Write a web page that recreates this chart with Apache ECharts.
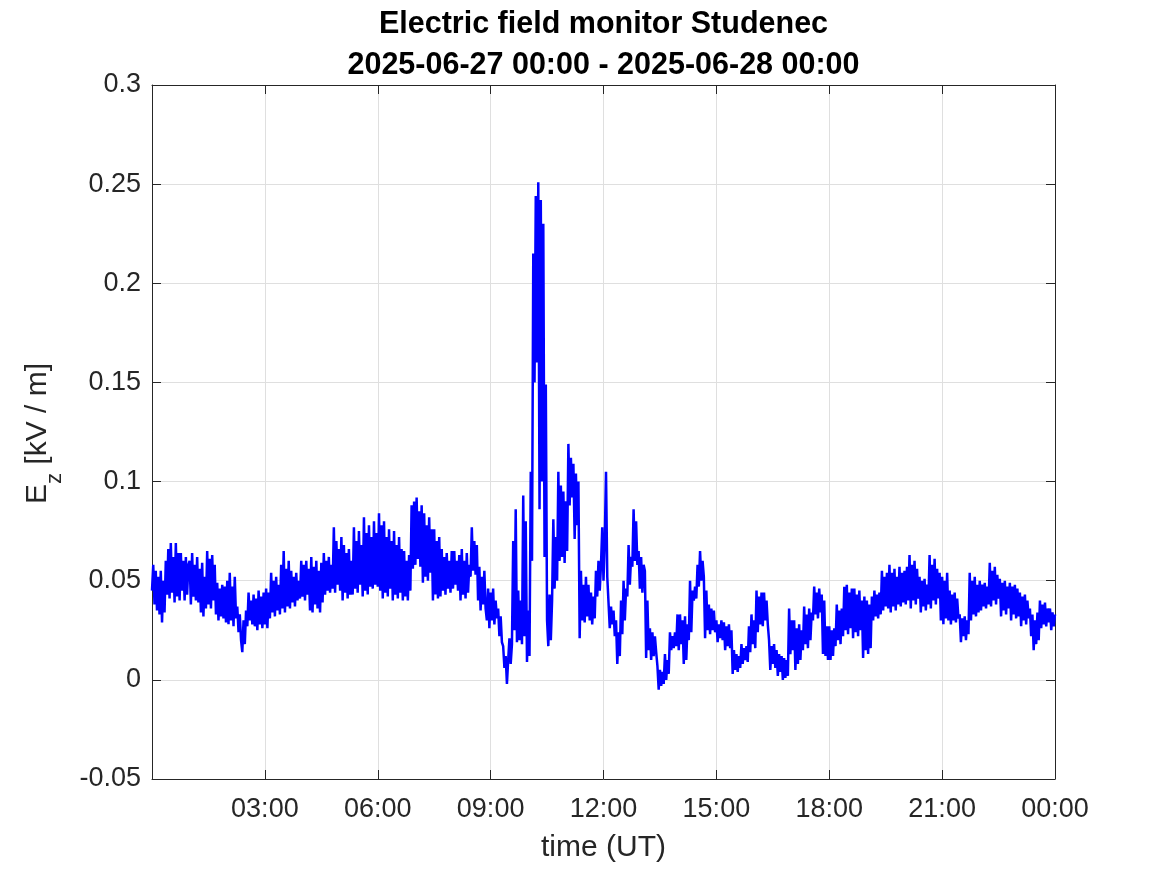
<!DOCTYPE html>
<html>
<head>
<meta charset="utf-8">
<script src="https://cdn.jsdelivr.net/npm/echarts@6/dist/echarts.min.js"></script>
<style>
html,body{margin:0;padding:0;background:#fff;}
#chart{width:1167px;height:875px;}
</style>
</head>
<body>
<div id="chart"></div>
<script>
// ---- data (E_z in kV/m), one sample every 2 minutes ----
const stepMinutes = 2;
const ez00_06 = [
  0.045,0.058,0.038,0.055,0.035,0.052,0.033,0.055,0.029,0.050,0.034,0.060,0.043,0.066,0.041,0.069,0.044,0.062,0.039,0.069,0.042,0.064,0.040,0.064,0.045,0.060,0.040,0.062,0.043,0.058,
  0.060,0.038,0.064,0.042,0.058,0.040,0.062,0.039,0.056,0.034,0.059,0.032,0.052,0.036,0.065,0.038,0.061,0.036,0.063,0.040,0.058,0.033,0.049,0.030,0.046,0.032,0.048,0.031,0.047,0.029,
  0.050,0.028,0.054,0.030,0.047,0.027,0.052,0.031,0.037,0.024,0.033,0.020,0.014,0.030,0.018,0.035,0.027,0.044,0.030,0.040,0.028,0.043,0.027,0.041,0.025,0.045,0.028,0.042,0.026,0.044,
  0.028,0.046,0.026,0.044,0.031,0.054,0.034,0.050,0.032,0.052,0.035,0.048,0.033,0.058,0.036,0.065,0.034,0.056,0.037,0.060,0.036,0.055,0.039,0.052,0.037,0.054,0.040,0.050,0.041,0.060,
  0.042,0.058,0.040,0.060,0.043,0.056,0.035,0.062,0.034,0.057,0.038,0.060,0.036,0.055,0.034,0.059,0.039,0.064,0.043,0.060,0.045,0.062,0.044,0.058,0.046,0.077,0.044,0.070,0.048,0.066,
  0.045,0.072,0.040,0.068,0.044,0.064,0.041,0.066,0.043,0.060,0.043,0.077,0.046,0.070,0.044,0.075,0.048,0.068,0.042,0.082,0.045,0.074,0.043,0.078,0.047,0.072,0.046,0.080,0.048,0.074
];
const ez06_12 = [
  0.047,0.084,0.045,0.078,0.041,0.080,0.044,0.072,0.042,0.076,0.046,0.070,0.040,0.075,0.043,0.068,0.041,0.072,0.044,0.066,0.040,0.065,0.042,0.060,0.040,0.063,0.045,0.088,0.056,0.090,
  0.058,0.092,0.061,0.085,0.057,0.088,0.049,0.084,0.052,0.078,0.050,0.082,0.054,0.076,0.040,0.076,0.043,0.070,0.041,0.072,0.042,0.066,0.045,0.062,0.043,0.064,0.046,0.060,0.044,0.065,
  0.046,0.065,0.048,0.060,0.045,0.063,0.040,0.066,0.043,0.060,0.041,0.064,0.044,0.058,0.052,0.077,0.055,0.070,0.053,0.068,0.040,0.057,0.035,0.052,0.038,0.055,0.036,0.030,0.046,0.026,
  0.044,0.030,0.046,0.028,0.040,0.031,0.036,0.022,0.032,0.019,0.017,0.006,0.012,-0.002,0.010,0.021,0.008,0.018,0.070,0.025,0.086,0.019,0.045,0.020,0.040,0.018,0.093,0.022,0.080,0.009,
  0.035,0.012,0.105,0.060,0.215,0.150,0.244,0.160,0.251,0.086,0.242,0.100,0.230,0.062,0.149,0.030,0.017,0.043,0.020,0.040,0.081,0.046,0.072,0.050,0.105,0.060,0.098,0.062,0.095,0.059,
  0.090,0.065,0.119,0.088,0.112,0.092,0.109,0.071,0.104,0.078,0.100,0.021,0.055,0.030,0.048,0.029,0.052,0.032,0.048,0.030,0.044,0.028,0.042,0.031,0.055,0.042,0.060,0.045,0.058,0.077
];
const ez12_18 = [
  0.050,0.070,0.105,0.052,0.039,0.026,0.037,0.028,0.035,0.022,0.030,0.008,0.024,0.012,0.040,0.023,0.050,0.030,0.046,0.042,0.068,0.048,0.062,0.057,0.086,0.060,0.080,0.058,0.065,0.046,
  0.062,0.044,0.058,0.055,0.011,0.040,0.015,0.026,0.010,0.024,0.012,0.022,0.014,0.007,-0.005,0.005,-0.003,0.004,-0.002,0.013,0.000,0.010,0.003,0.024,0.015,0.022,0.016,0.024,0.017,0.033,
  0.015,0.033,0.018,0.030,0.008,0.032,0.010,0.028,0.020,0.050,0.024,0.045,0.040,0.047,0.041,0.058,0.047,0.065,0.050,0.060,0.052,0.021,0.045,0.025,0.038,0.023,0.036,0.025,0.035,0.024,
  0.030,0.019,0.028,0.021,0.030,0.020,0.029,0.015,0.027,0.017,0.028,0.016,0.025,0.003,0.015,0.005,0.013,0.004,0.012,0.006,0.018,0.008,0.016,0.010,0.017,0.009,0.027,0.014,0.033,0.018,
  0.030,0.016,0.045,0.024,0.042,0.028,0.044,0.027,0.044,0.030,0.040,0.028,0.020,0.005,0.017,0.008,0.018,0.006,0.015,0.002,0.013,0.004,0.012,0.000,0.011,0.001,0.010,0.002,0.036,0.013,
  0.030,0.015,0.030,0.005,0.026,0.008,0.028,0.010,0.025,0.015,0.037,0.018,0.033,0.016,0.036,0.020,0.034,0.030,0.047,0.033,0.044,0.031,0.046,0.034,0.043,0.013,0.040,0.012,0.027,0.010
];
const ez18_24 = [
  0.027,0.010,0.025,0.012,0.026,0.017,0.038,0.020,0.035,0.018,0.036,0.022,0.047,0.025,0.048,0.023,0.044,0.026,0.046,0.021,0.046,0.024,0.043,0.022,0.045,0.025,0.040,0.011,0.042,0.015,
  0.040,0.013,0.038,0.016,0.042,0.030,0.045,0.032,0.043,0.031,0.044,0.033,0.055,0.035,0.052,0.037,0.054,0.036,0.058,0.034,0.054,0.037,0.056,0.035,0.052,0.038,0.057,0.037,0.054,0.039,
  0.055,0.038,0.057,0.040,0.063,0.036,0.058,0.040,0.060,0.038,0.056,0.041,0.052,0.034,0.050,0.037,0.051,0.035,0.048,0.038,0.063,0.036,0.058,0.040,0.061,0.038,0.056,0.041,0.054,0.030,
  0.052,0.028,0.050,0.031,0.054,0.030,0.045,0.028,0.043,0.030,0.044,0.029,0.041,0.031,0.033,0.019,0.031,0.022,0.032,0.020,0.030,0.023,0.054,0.030,0.050,0.033,0.052,0.032,0.048,0.034,
  0.050,0.035,0.048,0.037,0.049,0.036,0.047,0.038,0.059,0.037,0.055,0.040,0.057,0.038,0.053,0.041,0.051,0.032,0.049,0.035,0.050,0.033,0.047,0.036,0.049,0.030,0.047,0.033,0.048,0.031,
  0.046,0.032,0.044,0.027,0.042,0.030,0.043,0.028,0.040,0.031,0.036,0.022,0.033,0.015,0.030,0.018,0.034,0.020,0.040,0.026,0.038,0.028,0.039,0.027,0.036,0.029,0.036,0.025,0.034,0.027,
  0.033
];
const xTickHours = [0, 3, 6, 9, 12, 15, 18, 21, 24];
const yTicks = [-0.05, 0, 0.05, 0.1, 0.15, 0.2, 0.25, 0.3];
const titleLine1 = 'Electric field monitor Studenec';
const titleLine2 = '2025-06-27 00:00 - 2025-06-28 00:00';
const xName = 'time (UT)';

const ezValues = ez00_06.concat(ez06_12, ez12_18, ez18_24);
const seriesData = ezValues.map((v, i) => [i * stepMinutes / 60, v]);

const FONT = "'Liberation Sans', Arial, Helvetica, sans-serif";
const AX = '#262626';
const GRID = '#dfdfdf';

function fmtHour(v) {
  if (v === xTickHours[0]) return '';
  const h = Math.round(v) % 24;
  return (h < 10 ? '0' : '') + h + ':00';
}
function fmtY(v) { return String(parseFloat(v.toFixed(2))); }

const chart = echarts.init(document.getElementById('chart'), null, {renderer: 'canvas'});
const tickCommon = {show: true, inside: true, length: 9, lineStyle: {color: AX, width: 1}};
chart.setOption({
  backgroundColor: '#ffffff',
  animation: false,
  grid: {left: 152, right: 112, top: 85, bottom: 96, containLabel: false, outerBoundsMode: 'none'},
  xAxis: [{
    type: 'value', min: xTickHours[0], max: xTickHours[xTickHours.length - 1], interval: 3,
    position: 'bottom',
    axisLine: {show: true, onZero: false, lineStyle: {color: AX, width: 1}},
    axisTick: tickCommon,
    axisLabel: {show: true, formatter: fmtHour, fontSize: 27, color: AX, fontFamily: FONT, margin: 17},
    splitLine: {show: true, lineStyle: {color: GRID, width: 1}},
    name: xName, nameLocation: 'middle', nameGap: 54,
    nameTextStyle: {fontSize: 30, color: AX, fontFamily: FONT}
  }, {
    type: 'value', min: xTickHours[0], max: xTickHours[xTickHours.length - 1], interval: 3,
    position: 'top',
    axisLine: {show: true, onZero: false, lineStyle: {color: AX, width: 1}},
    axisTick: tickCommon,
    axisLabel: {show: false},
    splitLine: {show: false}
  }],
  yAxis: [{
    type: 'value', min: yTicks[0], max: yTicks[yTicks.length - 1], interval: 0.05,
    position: 'left',
    axisLine: {show: true, onZero: false, lineStyle: {color: AX, width: 1}},
    axisTick: tickCommon,
    axisLabel: {show: true, formatter: fmtY, fontSize: 27, color: AX, fontFamily: FONT, margin: 11},
    splitLine: {show: true, lineStyle: {color: GRID, width: 1}}
  }, {
    type: 'value', min: yTicks[0], max: yTicks[yTicks.length - 1], interval: 0.05,
    position: 'right',
    axisLine: {show: true, onZero: false, lineStyle: {color: AX, width: 1}},
    axisTick: tickCommon,
    axisLabel: {show: false},
    splitLine: {show: false}
  }],
  series: [{
    type: 'line', xAxisIndex: 0, yAxisIndex: 0,
    data: seriesData, showSymbol: false, symbol: 'none',
    lineStyle: {color: '#0000ff', width: 2.5, join: 'miter', miterLimit: 2},
    itemStyle: {color: '#0000ff'},
    z: 3, clip: true
  }],
  graphic: [
    {type: 'text', x: 603.5, y: 25, silent: true,
     style: {text: titleLine1, align: 'center', verticalAlign: 'middle', fill: '#000', font: 'bold 30.5px ' + FONT}},
    {type: 'text', x: 603.5, y: 66, silent: true,
     style: {text: titleLine2, align: 'center', verticalAlign: 'middle', fill: '#000', font: 'bold 30.5px ' + FONT}},
    {type: 'text', x: 37.7, y: 504, rotation: Math.PI / 2, silent: true,
     style: {text: 'E', align: 'left', verticalAlign: 'middle', fill: AX, font: '30px ' + FONT}},
    {type: 'text', x: 54.9, y: 484, rotation: Math.PI / 2, silent: true,
     style: {text: 'z', align: 'left', verticalAlign: 'middle', fill: AX, font: '22px ' + FONT}},
    {type: 'text', x: 37.7, y: 473, rotation: Math.PI / 2, silent: true,
     style: {text: ' [kV / m]', align: 'left', verticalAlign: 'middle', fill: AX, font: '30px ' + FONT}}
  ]
});
</script>
</body>
</html>
